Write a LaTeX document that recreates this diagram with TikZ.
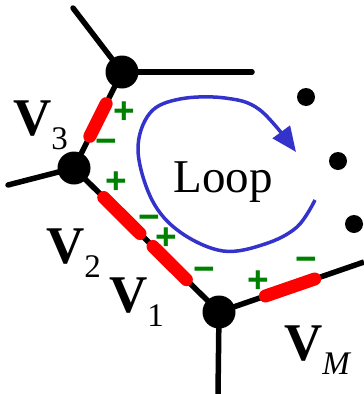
\documentclass[tikz,border=0pt]{standalone}
\usepackage{fontspec}
\setmainfont{Liberation Serif}
\newfontfamily\signfont{Liberation Sans}
\usetikzlibrary{calc,arrows.meta}
\pgfdeclarelayer{background}
\pgfsetlayers{background,main}
\definecolor{sgreen}{RGB}{0,128,0}
\definecolor{sred}{RGB}{255,0,0}
\definecolor{sblue}{RGB}{51,51,204}
\tikzset{
  bigdot/.style={circle,fill=black,inner sep=0pt,minimum size=33pt},
  smalldot/.style={circle,fill=black,inner sep=0pt,minimum size=18pt},
  wire/.style={line width=5.5pt,black},
  redseg/.style={line width=13pt,sred,line cap=round},
  sign/.style={text=sgreen,inner sep=0pt,font=\signfont\bfseries\fontsize{37}{37}\selectfont},
  vlabel/.style={anchor=base west,inner sep=0pt,font=\fontsize{53}{56}\selectfont},
  looptext/.style={anchor=base,inner sep=0pt,font=\fontsize{47}{50}\selectfont}
}
\newcommand{\vsub}[1]{\raisebox{-14pt}{\fontsize{33}{36}\selectfont\mdseries #1}}
\begin{document}
\begin{tikzpicture}[x=1pt,y=-1pt]
\useasboundingbox (0,0) rectangle (364,394);
% vertices
\node[bigdot] (A) at (122,72) {};
\node[bigdot] (B) at (74,168) {};
\node[bigdot] (C) at (219,312) {};
\coordinate (A1) at (73,8);
\coordinate (A2) at (252,72);
\coordinate (B1) at (8,185);
\coordinate (C1) at (218,394);
\coordinate (C2) at (364,262);
\begin{pgfonlayer}{background}
\draw[wire,line cap=round] (A.center) -- (A1);
\draw[wire,line cap=round] (A.center) -- (A2);
\draw[wire,line cap=round] (B.center) -- (B1);
\draw[wire] (C.center) -- (C1);
\draw[wire] (C.center) -- (C2);
\draw[wire] (A.center) -- (B.center);
\draw[wire] (B.center) -- (C.center);
\draw[redseg] ($(A)!0.33!(B)$) -- ($(A)!0.67!(B)$);
\draw[redseg] ($(B)!0.205!(C)$) -- ($(B)!0.455!(C)$);
\draw[redseg] ($(B)!0.545!(C)$) -- ($(B)!0.775!(C)$);
\draw[redseg] ($(C)!0.32!(C2)$) -- ($(C)!0.66!(C2)$);
\end{pgfonlayer}
% dots
\node[smalldot] (d1) at (306,97) {};
\node[smalldot] (d2) at (338,161) {};
\node[smalldot] (d3) at (354,224) {};
% signs
\node[sign] (s1) at (124,113) {+};
\node[sign] (s2) at (106,146) {−};
\node[sign] (s3) at (116,183) {+};
\node[sign] (s4) at (149,222) {−};
\node[sign] (s5) at (166,239) {+};
\node[sign] (s6) at (204,274) {−};
\node[sign] (s7) at (258,282) {+};
\node[sign] (s8) at (306,264) {−};
% labels
\node[vlabel] (V3) at (13,135) {\textbf{V}\vsub{3}};
\node[vlabel] (V2) at (46,263) {\textbf{V}\vsub{2}};
\node[vlabel] (V1) at (109,312) {\textbf{V}\vsub{1}};
\node[vlabel] (VM) at (284,360) {\textbf{V}\vsub{\itshape M}};
% loop
\node[looptext] (L) at (223,192) {Loop};
\draw[sblue,line width=3.5pt,-{Triangle[length=25pt,width=21pt]}]
  plot[smooth,tension=0.6] coordinates {(315,200) (297,227) (265,244) (223,251) (180,232) (152,200) (138,150) (150,113) (180,99) (225,98) (260,110) (296,152)};
\end{tikzpicture}
\end{document}
